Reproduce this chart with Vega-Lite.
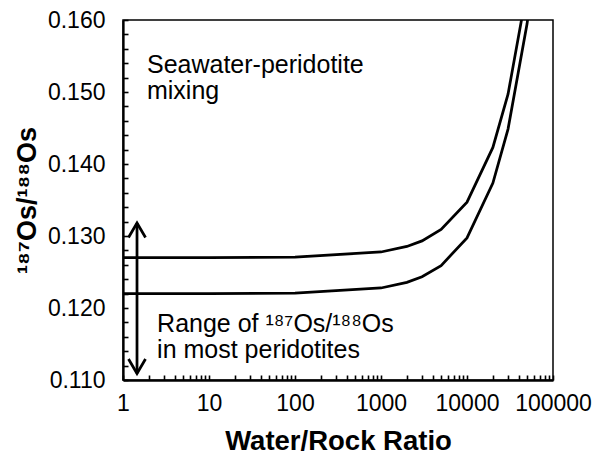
{
  "$schema": "https://vega.github.io/schema/vega-lite/v6.json",
  "width": 430,
  "height": 360,
  "autosize": {"type": "none"},
  "padding": {"left": 123, "top": 20, "right": 41, "bottom": 77},
  "background": "white",
  "config": {
    "font": "Liberation Sans",
    "view": {"stroke": "black", "strokeWidth": 1.5},
    "axis": {"grid": false, "domainColor": "black", "domainWidth": 2.25, "tickColor": "black", "tickWidth": 1.6, "labelColor": "black", "titleColor": "black"}
  },
  "resolve": {"axis": {"y": "independent"}},
  "datasets": {
    "curves": [
      {"wr": 1, "os": 0.127, "series": "upper"},
      {"wr": 10, "os": 0.127008, "series": "upper"},
      {"wr": 100, "os": 0.12708, "series": "upper"},
      {"wr": 1000, "os": 0.12778, "series": "upper"},
      {"wr": 2000, "os": 0.12855, "series": "upper"},
      {"wr": 3000, "os": 0.12932, "series": "upper"},
      {"wr": 5000, "os": 0.1309, "series": "upper"},
      {"wr": 10000, "os": 0.1347, "series": "upper"},
      {"wr": 20000, "os": 0.1423, "series": "upper"},
      {"wr": 30000, "os": 0.1497, "series": "upper"},
      {"wr": 50000, "os": 0.1643, "series": "upper"},
      {"wr": 1, "os": 0.122, "series": "lower"},
      {"wr": 10, "os": 0.122008, "series": "lower"},
      {"wr": 100, "os": 0.12208, "series": "lower"},
      {"wr": 1000, "os": 0.12278, "series": "lower"},
      {"wr": 2000, "os": 0.12356, "series": "lower"},
      {"wr": 3000, "os": 0.12434, "series": "lower"},
      {"wr": 5000, "os": 0.12589, "series": "lower"},
      {"wr": 10000, "os": 0.12974, "series": "lower"},
      {"wr": 20000, "os": 0.13735, "series": "lower"},
      {"wr": 30000, "os": 0.14485, "series": "lower"},
      {"wr": 50000, "os": 0.1595, "series": "lower"},
      {"wr": 70000, "os": 0.1736, "series": "lower"}
    ],
    "arrow": [{"wr": 1.455, "lo": 0.1109, "hi": 0.1318}],
    "heads": [
      {"wr": 1.455, "os": 0.1318, "dir": "up"},
      {"wr": 1.455, "os": 0.1109, "dir": "down"}
    ],
    "notes": [
      {"wr": 1.9, "os": 0.1526, "label": "Seawater-peridotite\nmixing"},
      {"wr": 2.49, "os": 0.11667, "label": "Range of ¹⁸⁷Os/¹⁸⁸Os\nin most peridotites"}
    ]
  },
  "layer": [
    {
      "data": {"name": "curves"},
      "mark": {"type": "line", "clip": true, "strokeWidth": 2.75, "color": "black"},
      "encoding": {
        "x": {
          "field": "wr", "type": "quantitative",
          "scale": {"type": "log", "domain": [1, 100000]},
          "axis": {
            "values": [1,2,3,4,5,6,7,8,9,10,20,30,40,50,60,70,80,90,100,200,300,400,500,600,700,800,900,1000,2000,3000,4000,5000,6000,7000,8000,9000,10000,20000,30000,40000,50000,60000,70000,80000,90000,100000],
            "format": "d",
            "labelExpr": "indexof([1,10,100,1000,10000,100000], datum.value) >= 0 ? datum.label : ''",
            "labelOverlap": false,
            "labelFlush": false,
            "labelFontSize": 23,
            "labelPadding": 17,
            "tickSize": -5,
            "title": "Water/Rock Ratio",
            "titleFontSize": 27.5,
            "titleFontWeight": "bold",
            "titleX": 215,
            "titleY": 69,
            "titleAlign": "center",
            "titleBaseline": "alphabetic"
          }
        },
        "y": {
          "field": "os", "type": "quantitative",
          "scale": {"domain": [0.11, 0.16], "zero": false, "nice": false},
          "axis": {
            "orient": "left",
            "values": [0.110, 0.120, 0.130, 0.140, 0.150, 0.160],
            "format": ".3f",
            "labelOverlap": false,
            "labelFlush": false,
            "labelFontSize": 23,
            "labelPadding": 23,
            "labelBaseline": "middle",
            "tickSize": -5,
            "title": "¹⁸⁷Os/¹⁸⁸Os",
            "titleFontSize": 27,
            "titleFontWeight": "bold",
            "titleAngle": -90,
            "titleX": -88,
            "titleY": 180,
            "titleAlign": "center",
            "titleBaseline": "alphabetic"
          }
        },
        "detail": {"field": "series", "type": "nominal"}
      }
    },
    {
      "data": {"name": "arrow"},
      "mark": {"type": "rule", "strokeWidth": 2.75, "color": "black"},
      "encoding": {
        "x": {"field": "wr", "type": "quantitative"},
        "y": {
          "field": "lo", "type": "quantitative",
          "axis": {
            "orient": "left",
            "values": [0.112,0.114,0.116,0.118,0.122,0.124,0.126,0.128,0.132,0.134,0.136,0.138,0.142,0.144,0.146,0.148,0.152,0.154,0.156,0.158],
            "labels": false,
            "domain": false,
            "tickSize": -5,
            "title": null
          }
        },
        "y2": {"field": "hi"}
      }
    },
    {
      "data": {"name": "heads"},
      "mark": {"type": "point", "filled": false, "stroke": "black", "strokeWidth": 2.75, "size": 289, "opacity": 1},
      "encoding": {
        "x": {"field": "wr", "type": "quantitative"},
        "y": {"field": "os", "type": "quantitative", "axis": null},
        "shape": {
          "field": "dir", "type": "nominal", "legend": null,
          "scale": {"domain": ["up", "down"], "range": ["M-1,1.7L0,0L1,1.7", "M-1,-1.7L0,0L1,-1.7"]}
        }
      }
    },
    {
      "data": {"name": "notes"},
      "mark": {"type": "text", "align": "left", "baseline": "alphabetic", "fontSize": 25, "lineHeight": 26, "lineBreak": "\n", "color": "black"},
      "encoding": {
        "x": {"field": "wr", "type": "quantitative"},
        "y": {"field": "os", "type": "quantitative", "axis": null},
        "text": {"field": "label", "type": "nominal"}
      }
    }
  ]
}
